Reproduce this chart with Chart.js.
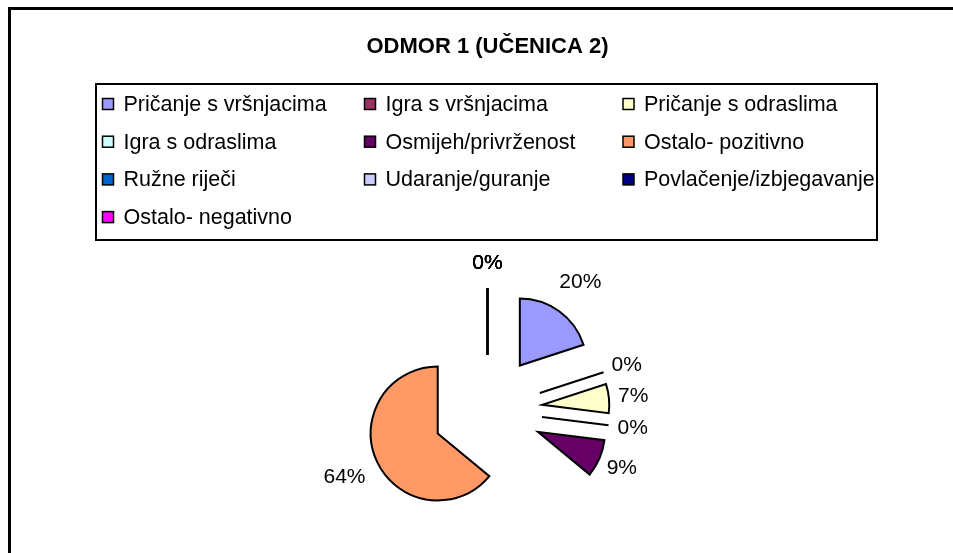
<!DOCTYPE html>
<html><head><meta charset="utf-8">
<script src="https://cdn.jsdelivr.net/npm/chart.js@4"></script>
<style>html,body{margin:0;padding:0;background:#fff;overflow:hidden}canvas{display:block}</style>
</head><body>
<canvas id="c" width="953" height="553"></canvas>
<script>
const chartTitle = 'ODMOR 1 (UČENICA 2)';
const categories = ['Pričanje s vršnjacima','Igra s vršnjacima','Pričanje s odraslima','Igra s odraslima','Osmijeh/privrženost','Ostalo- pozitivno','Ružne riječi','Udaranje/guranje','Povlačenje/izbjegavanje','Ostalo- negativno'];
const percentValues = [20, 0, 7, 0, 9, 64, 0, 0, 0, 0];
const sliceColors = ['#9999FF','#993366','#FFFFCC','#CCFFFF','#660066','#FF9966','#0066CC','#CCCCFF','#000080','#FF00FF'];

const FONT = '"Liberation Sans", Arial, sans-serif';
const EXPLODE = 55;
const LEGEND_COLS = [102.5, 364.5, 623];

const explodePlugin = {
  id: 'explode',
  afterDatasetUpdate(chart, args) {
    const meta = chart.getDatasetMeta(args.index);
    meta.data.forEach(arc => {
      const mid = (arc.startAngle + arc.endAngle) / 2;
      arc.x += Math.cos(mid) * EXPLODE;
      arc.y += Math.sin(mid) * EXPLODE;
    });
  }
};

const labelPlugin = {
  id: 'pieLabels',
  afterDatasetsDraw(chart) {
    const ctx = chart.ctx;
    const meta = chart.getDatasetMeta(0);
    const data = chart.data.datasets[0].data;
    const total = data.reduce((a, b) => a + b, 0);
    ctx.save();
    meta.data.forEach((arc, i) => {
      const r = arc.outerRadius;
      const mid = (arc.startAngle + arc.endAngle) / 2;
      const dx = Math.cos(mid), dy = Math.sin(mid);
      if (arc.circumference === 0) {
        ctx.beginPath();
        ctx.moveTo(arc.x, arc.y);
        ctx.lineTo(arc.x + dx * r, arc.y + dy * r);
        ctx.lineWidth = 2;
        ctx.strokeStyle = '#000';
        ctx.stroke();
      }
      const txt = Math.round(data[i] / total * 100) + '%';
      ctx.font = '21px ' + FONT;
      const w = ctx.measureText(txt).width;
      const R = r + 24 + Math.max(0, w - 30);
      ctx.fillStyle = '#000';
      ctx.textAlign = 'center';
      ctx.textBaseline = 'middle';
      ctx.fillText(txt, arc.x + dx * R, arc.y + dy * R);
    });
    ctx.restore();
  }
};

const legendGrid = {
  id: 'legendGrid',
  afterDraw(chart) {
    const ctx = chart.ctx;
    const labels = chart.data.labels;
    const colors = chart.data.datasets[0].backgroundColor;
    ctx.save();
    ctx.strokeStyle = '#000';
    ctx.lineWidth = 3;
    ctx.strokeRect(9.5, 8.5, 2000, 2000);
    ctx.lineWidth = 2;
    ctx.strokeRect(96, 84, 781, 156);
    ctx.font = '21.5px ' + FONT;
    ctx.textBaseline = 'middle';
    ctx.textAlign = 'left';
    labels.forEach((lab, i) => {
      const x = LEGEND_COLS[i % 3];
      const y = 104 + Math.floor(i / 3) * 37.7;
      ctx.fillStyle = colors[i];
      ctx.fillRect(x, y - 5.5, 11, 11);
      ctx.lineWidth = 1.5;
      ctx.strokeRect(x, y - 5.5, 11, 11);
      ctx.fillStyle = '#000';
      ctx.fillText(lab, x + 21, y + 1);
    });
    ctx.restore();
  }
};

new Chart(document.getElementById('c'), {
  type: 'pie',
  data: {
    labels: categories,
    datasets: [{
      data: percentValues,
      backgroundColor: sliceColors,
      borderColor: '#000',
      borderWidth: 2,
      borderJoinStyle: 'miter',
      radius: 67
    }]
  },
  options: {
    responsive: false,
    animation: false,
    events: [],
    layout: { padding: { left: 22, right: 0, top: 0, bottom: 0 } },
    plugins: {
      legend: { display: false },
      tooltip: { enabled: false },
      title: {
        display: true,
        text: chartTitle,
        color: '#000',
        font: { family: FONT, size: 22, weight: 'bold' },
        padding: { top: 34, bottom: 206.6 }
      }
    }
  },
  plugins: [explodePlugin, labelPlugin, legendGrid]
});
</script>
</body></html>
